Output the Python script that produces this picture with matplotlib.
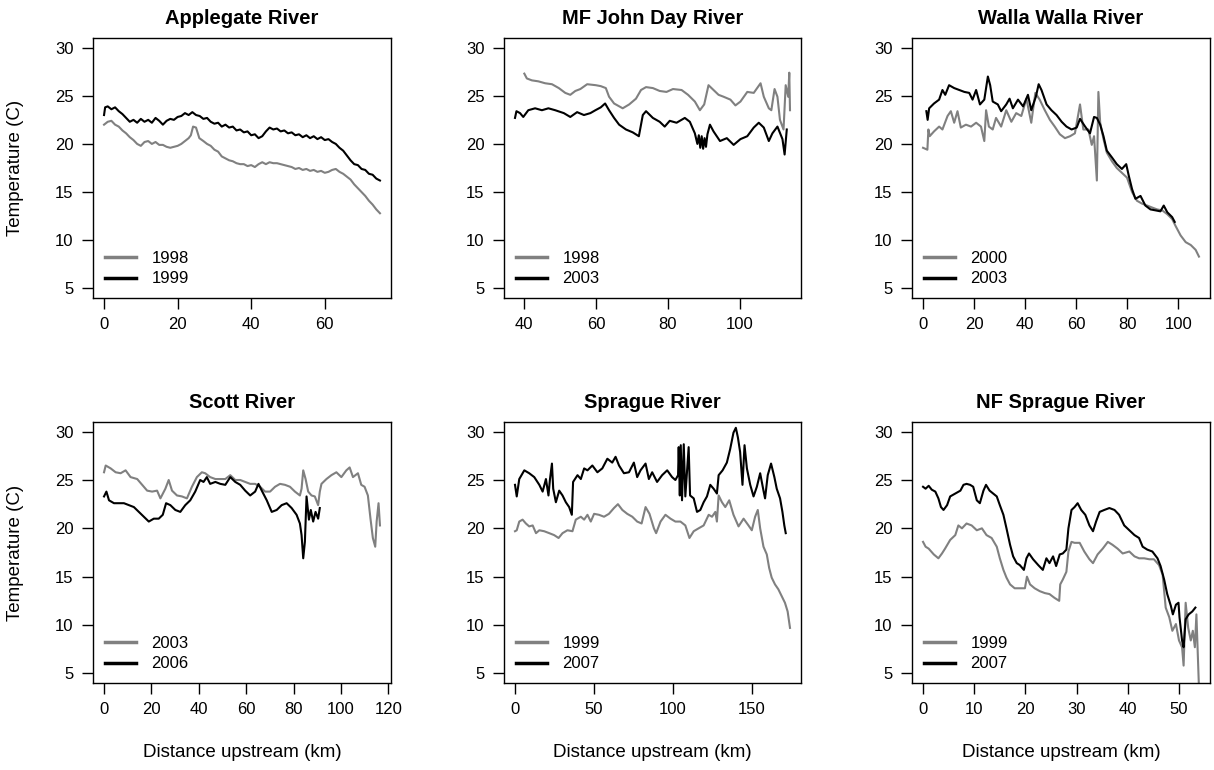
import matplotlib
matplotlib.use("Agg")
import matplotlib.pyplot as plt
from matplotlib.lines import Line2D
from matplotlib.ticker import MultipleLocator

plt.rcParams['font.family'] = ['Liberation Sans', 'DejaVu Sans']

# Applegate River
app_98_km = [0, 1, 2, 3, 4, 5, 6, 7, 8, 9, 10, 11, 12, 13, 14, 15, 16, 17, 18, 19, 20, 21, 22, 23, 23.6, 24.2,
             25, 25.9, 27, 28, 29, 30, 31, 32, 33, 34, 35, 36, 37, 38, 39, 40, 41, 42, 43, 44, 45, 46, 47, 48,
             49, 50, 51, 52, 53, 54, 55, 56, 57, 58, 59, 60, 61, 62, 63, 64, 65, 66, 67, 68, 69, 70, 71, 72, 73,
             74, 75]
app_98_t = [22.0, 22.3, 22.4, 22.0, 21.8, 21.4, 21.1, 20.7, 20.4, 20.0, 19.8, 20.2, 20.3, 20.0, 20.2, 19.9, 19.9,
            19.7, 19.6, 19.7, 19.8, 20.0, 20.3, 20.6, 20.9, 21.8, 21.7, 20.6, 20.3, 20.0, 19.8, 19.4, 19.2, 18.7,
            18.5, 18.3, 18.2, 18.0, 17.9, 17.9, 17.7, 17.8, 17.6, 17.9, 18.1, 17.9, 18.1, 18.0, 18.0, 17.9, 17.8,
            17.7, 17.6, 17.4, 17.5, 17.3, 17.4, 17.2, 17.3, 17.1, 17.2, 17.0, 17.1, 17.3, 17.4, 17.1, 16.9, 16.6,
            16.3, 15.8, 15.4, 15.0, 14.6, 14.1, 13.7, 13.2, 12.8]
app_99_km = [0, 0.3, 1, 2, 3, 4, 5, 6, 7, 8, 9, 10, 11, 12, 13, 14, 15, 16, 17, 18, 19, 20, 21, 22, 23, 24, 25,
             26, 27, 28, 29, 30, 31, 32, 33, 34, 35, 36, 37, 38, 39, 40, 41, 42, 43, 44, 45, 46, 47, 48, 49, 50,
             51, 52, 53, 54, 55, 56, 57, 58, 59, 60, 61, 62, 63, 64, 65, 66, 67, 68, 69, 70, 71, 72, 73, 74, 75]
app_99_t = [23.0, 23.8, 23.9, 23.6, 23.8, 23.4, 23.1, 22.7, 22.3, 22.5, 22.2, 22.6, 22.3, 22.5, 22.2, 22.7, 22.4,
            22.0, 22.4, 22.6, 22.5, 22.8, 22.9, 23.2, 23.0, 23.3, 23.0, 22.9, 22.6, 22.7, 22.3, 22.1, 22.2, 21.8,
            22.0, 21.7, 21.8, 21.4, 21.5, 21.2, 21.3, 20.9, 21.0, 20.6, 20.8, 21.3, 21.7, 21.5, 21.6, 21.3, 21.4,
            21.1, 21.2, 20.9, 21.0, 20.7, 20.9, 20.6, 20.8, 20.5, 20.7, 20.4, 20.5, 20.2, 20.0, 19.6, 19.3, 18.8,
            18.3, 17.9, 17.8, 17.4, 17.3, 16.9, 16.8, 16.4, 16.2]

# MF John Day River
jd_98_km = [40, 40.7, 42.1, 43.9, 45.8, 47.7, 49.6, 51.4, 52.8, 54.2, 55.6, 57.5, 59.9, 61.3, 62.7, 63.6, 65,
            67.4, 69.2, 71.1, 72.5, 73.9, 75.8, 77.7, 79.6, 81.4, 83.8, 85.6, 87.5, 88.9, 90.1, 91.3, 92.7, 94.1,
            95.5, 97.4, 98.8, 100.2, 102.1, 103.9, 105.8, 106.7, 108.1, 108.8, 109.7, 110.5, 111.2, 112.2, 112.8,
            113.5, 113.8, 114]
jd_98_t = [27.3, 26.8, 26.6, 26.5, 26.3, 26.2, 25.8, 25.3, 25.1, 25.5, 25.7, 26.2, 26.1, 26.0, 25.8, 24.9, 24.2,
           23.7, 24.1, 24.7, 25.6, 25.9, 25.8, 25.5, 25.4, 25.7, 25.6, 25.1, 24.4, 23.5, 24.1, 26.1, 25.6, 25.1,
           24.9, 24.6, 24.0, 24.4, 25.4, 25.3, 26.3, 24.9, 23.7, 23.5, 25.7, 24.9, 22.5, 21.5, 26.1, 24.9, 27.4,
           23.5]
jd_03_km = [37.4, 37.8, 38.8, 39.7, 41.1, 43, 44.9, 46.7, 48.6, 51, 52.8, 54.7, 56.6, 58.4, 59.8, 61.3, 62.5,
            63.6, 65, 66.4, 68.3, 70.2, 71.9, 73, 73.9, 75.8, 77.7, 79.1, 80.5, 82.4, 84.7, 86.1, 87.5, 88.2, 88.6,
            89.0, 89.4, 89.8, 90.2, 90.6, 91.0, 91.7, 92.7, 94.5, 96.4, 98.3, 100.2, 102.1, 103.9, 105.3, 106.7,
            108.1, 109.1, 110.5, 111.9, 112.5, 113.1]
jd_03_t = [22.7, 23.4, 23.2, 22.8, 23.5, 23.7, 23.5, 23.7, 23.5, 23.2, 22.8, 23.3, 23.0, 23.2, 23.5, 23.8, 24.2,
           23.5, 22.7, 22.0, 21.5, 21.2, 20.8, 23.0, 23.4, 22.7, 22.3, 21.8, 22.4, 22.2, 22.7, 22.3, 21.1, 20.0,
           20.9, 19.6, 20.8, 19.5, 20.6, 19.7, 21.0, 22.0, 21.3, 20.3, 20.6, 19.9, 20.5, 20.8, 21.7, 22.2, 21.7,
           20.3, 21.1, 21.8, 20.5, 18.9, 21.5]

# Walla Walla River
ww_00_km = [0, 1.7, 2.1, 2.6, 4.3, 6.3, 7.6, 9.6, 10.9, 12.2, 13.5, 14.8, 16.8, 18.8, 20.8, 22.7, 24, 24.7, 25.8,
            27.3, 28.6, 30.6, 32.6, 34.6, 36.5, 38.5, 40.5, 42.4, 44, 45.7, 47.7, 49.7, 51.6, 53.6, 55.6, 57.6,
            59.5, 61.5, 62.8, 64.8, 66.1, 67, 68.1, 68.7, 69.4, 70.7, 72, 74, 75.9, 77.9, 79.9, 81.9, 83.8, 85.8,
            87.8, 89.7, 91.7, 93.7, 95.7, 97.6, 98.9, 100.9, 102.9, 104.9, 106.8, 108.1]
ww_00_t = [19.6, 19.4, 21.5, 20.8, 21.3, 21.8, 21.5, 22.9, 23.4, 22.2, 23.4, 21.7, 22.0, 21.8, 22.2, 21.8, 20.3,
           23.5, 21.8, 21.5, 22.7, 21.8, 23.5, 22.3, 23.2, 22.9, 24.7, 22.2, 25.3, 24.6, 23.5, 22.5, 21.8, 21.0,
           20.6, 20.8, 21.1, 24.1, 21.5, 21.5, 19.9, 20.8, 16.2, 25.4, 22.2, 20.5, 19.1, 18.2, 17.5, 17.0, 16.5,
           15.0, 14.1, 13.8, 13.6, 13.4, 13.2, 13.1, 12.7, 12.2, 11.5, 10.5, 9.8, 9.5, 9.0, 8.3]
ww_03_km = [1.3, 1.8, 2.4, 4.3, 6.3, 7.6, 8.7, 10.2, 12.2, 14.2, 16.2, 18.1, 19.4, 20.8, 22.3, 24, 25.4, 26.3,
            27.3, 29.3, 30.6, 32.6, 33.9, 35.2, 37.2, 39.2, 41.1, 42.4, 44.2, 45.3, 46.4, 48.4, 50.3, 52.3, 54.3,
            56.2, 58.2, 60.2, 61.5, 63.5, 65.4, 67, 68.1, 69.4, 70.7, 72, 74, 75.9, 77.9, 79.6, 80.6, 81.9, 83.2,
            85.2, 87.1, 89.1, 91.1, 93, 94.3, 95.7, 97.6, 98.6]
ww_03_t = [23.4, 22.5, 23.7, 24.2, 24.6, 25.6, 25.1, 26.1, 25.8, 25.6, 25.4, 25.3, 24.6, 25.6, 24.1, 24.6, 27.0,
           26.1, 24.4, 24.1, 23.4, 24.1, 24.7, 23.7, 24.6, 23.9, 25.1, 23.5, 24.9, 26.2, 25.6, 24.1, 23.5, 23.0,
           22.3, 21.8, 21.5, 21.7, 22.6, 21.8, 21.1, 22.8, 22.7, 22.0, 20.8, 19.3, 18.6, 17.9, 17.4, 17.9, 16.7,
           15.3, 14.3, 14.6, 13.6, 13.2, 13.1, 13.0, 13.6, 12.9, 12.4, 11.9]

# Scott River
sc_03_km = [0, 0.7, 2.8, 4.9, 7, 9.1, 11.2, 14, 16.1, 18.2, 20.3, 22.4, 23.8, 25.9, 27.3, 28.7, 30.8, 32.9, 35,
            37.1, 39.2, 41.3, 42.7, 44.8, 47, 49.1, 51.2, 53.3, 55.4, 57.5, 59.6, 61.7, 63.8, 65.9, 68, 70.1,
            72.2, 74.3, 76.4, 78.5, 80.6, 82.7, 83.4, 84.1, 85.1, 86.2, 87.6, 89, 90.4, 91.1, 91.8, 93.9, 96,
            98.1, 100.2, 102.3, 103.7, 105.1, 107.2, 108.6, 110, 111.4, 112.5, 113.5, 114.5, 115.1, 115.9, 116.5]
sc_03_t = [25.8, 26.5, 26.2, 25.8, 25.7, 26.0, 25.3, 25.1, 24.5, 23.9, 23.8, 23.9, 23.1, 24.1, 25.0, 23.9, 23.4,
           23.3, 23.1, 24.3, 25.3, 25.8, 25.7, 25.3, 25.1, 25.1, 25.1, 25.5, 25.0, 25.0, 24.8, 24.6, 24.6, 24.3,
           23.8, 23.8, 24.3, 24.6, 24.5, 24.3, 23.8, 23.4, 24.1, 26.0, 25.1, 23.8, 23.4, 23.3, 22.4, 23.8, 24.6,
           25.1, 25.5, 25.8, 25.3, 26.0, 26.3, 25.3, 25.7, 24.5, 24.3, 23.4, 21.0, 19.0, 18.1, 20.7, 22.6, 20.3]
sc_06_km = [0, 1, 2.1, 4.2, 6.3, 8.4, 10.5, 12.6, 14.7, 16.8, 18.9, 21, 23.1, 24.8, 26.2, 28, 30.1, 32.2, 34.3,
            36.4, 38.5, 40.6, 42, 43.4, 44.8, 47, 49.1, 51.2, 53.3, 55.4, 57.5, 59.6, 61.7, 63.8, 65.2, 66.6,
            68.7, 70.8, 72.9, 75, 77.1, 79.2, 81.3, 82.7, 83.4, 84.1, 84.8, 85.5, 86.5, 87.3, 88.3, 89.3, 90.4,
            91.1]
sc_06_t = [23.3, 23.8, 22.9, 22.6, 22.6, 22.6, 22.4, 22.2, 21.7, 21.2, 20.7, 21.0, 21.0, 21.4, 22.6, 22.4, 21.9,
           21.7, 22.4, 22.9, 23.8, 25.0, 24.8, 25.3, 24.6, 24.8, 24.6, 24.5, 25.3, 24.8, 24.5, 23.9, 23.4, 23.8,
           24.6, 23.9, 22.9, 21.7, 21.9, 22.4, 22.6, 22.1, 21.4, 20.5, 19.3, 16.9, 18.6, 23.3, 20.9, 21.9, 20.7,
           21.7, 21.0, 22.1]

# Sprague River
sp_99_km = [0, 1.1, 2.7, 4.8, 6.9, 9, 11.2, 13.3, 15.4, 18.5, 21.7, 24.8, 27.6, 30.1, 33.2, 36.4, 38.5, 41.7,
            43.8, 45.9, 48, 50.1, 53.2, 56.4, 59.5, 62.7, 65.2, 68, 71.1, 74.3, 77.4, 80.2, 82.7, 85.2, 88, 89.4,
            92.2, 95.3, 98.5, 101.6, 104.8, 107.9, 110.5, 113.2, 116.3, 119.5, 122.7, 124.8, 126.9, 127.9, 129,
            131.1, 133.2, 135.7, 138.4, 141.6, 144.8, 147.9, 150, 152.1, 153.8, 155.3, 157.4, 159.5, 161, 162.6,
            164.7, 166.8, 168.9, 171, 172.7, 174.2]
sp_99_t = [19.7, 19.8, 20.7, 20.9, 20.5, 20.2, 20.3, 19.5, 19.8, 19.7, 19.5, 19.3, 19.0, 19.5, 19.8, 19.7, 20.9,
           21.2, 20.9, 21.4, 20.7, 21.5, 21.4, 21.2, 21.5, 22.1, 22.5, 21.9, 21.5, 21.2, 20.7, 20.5, 22.2, 21.5,
           20.0, 19.5, 20.7, 21.4, 21.0, 20.7, 20.7, 20.3, 19.0, 19.7, 20.0, 20.3, 21.4, 21.2, 21.7, 20.7, 23.4,
           22.7, 22.2, 22.9, 21.4, 20.2, 21.0, 20.3, 19.8, 21.2, 21.9, 20.0, 18.1, 17.3, 15.9, 14.9, 14.2, 13.7,
           13.0, 12.3, 11.4, 9.7]
sp_07_km = [0, 1.1, 2.7, 5.9, 9, 12.2, 15.4, 17.5, 19.6, 21.2, 22.1, 23.4, 24.2, 25.9, 28, 30.1, 32.2, 34.3, 36,
            36.8, 39.6, 41.7, 43.8, 45.9, 49, 52.2, 55.3, 58.5, 61.6, 63.7, 65.9, 69, 72.2, 75.3, 77.4, 79.5, 82.7,
            84.8, 86.9, 90, 93.2, 96.4, 99.5, 101.6, 103.3, 103.7, 104.4, 105, 105.8, 106.9, 107.9, 110, 110.9,
            113.2, 115.3, 117.4, 119.5, 121.6, 123.7, 125.8, 127.9, 129, 131.5, 134.2, 136.3, 138.4, 139.9, 141.2,
            142.6, 144.1, 145.4, 146.9, 149, 151.1, 153.2, 155.3, 157.4, 158.4, 160.1, 162.2, 164.3, 165.8, 167.9,
            169.4, 170.6, 171.5]
sp_07_t = [24.5, 23.3, 25.1, 26.0, 25.7, 25.3, 24.5, 23.8, 25.1, 23.4, 25.0, 26.7, 24.1, 22.7, 23.9, 23.4, 22.7,
           22.2, 21.4, 24.8, 25.5, 25.1, 26.2, 26.0, 26.5, 25.8, 26.2, 27.2, 26.8, 27.4, 26.5, 25.7, 25.8, 26.8,
           25.3, 26.0, 26.7, 25.1, 25.8, 24.8, 25.5, 26.0, 25.3, 25.0, 25.5, 28.4, 23.4, 28.6, 22.9, 28.7, 23.3,
           28.4, 23.4, 23.1, 21.7, 21.9, 22.7, 23.3, 24.5, 24.1, 23.6, 25.5, 26.0, 26.8, 28.2, 29.9, 30.4, 29.4,
           27.9, 24.5, 28.6, 26.2, 24.5, 23.3, 24.3, 25.7, 23.9, 23.1, 25.5, 26.7, 25.3, 24.1, 23.1, 21.7, 20.3,
           19.5]

# NF Sprague River
nf_99_km = [0, 0.5, 1.1, 2.1, 3, 3.7, 4.3, 5.3, 6.3, 6.9, 7.6, 8.5, 9.5, 10.5, 11.5, 12.4, 13.4, 14.4, 15, 15.7,
            16.3, 17, 17.9, 18.9, 19.9, 20.3, 20.9, 21.8, 22.8, 23.8, 24.7, 25.7, 26.6, 26.8, 27.3, 28, 28.4, 29,
            29.6, 30.6, 31.5, 32.5, 33.2, 34.1, 35.1, 36.1, 37, 38, 39, 40.3, 41.3, 42.2, 43.2, 44.2, 45.1, 46.1,
            46.8, 47.4, 48.1, 48.7, 49.4, 50, 50.6, 50.9, 51.3, 51.8, 52.3, 52.7, 53.1, 53.4, 53.9]
nf_99_t = [18.6, 18.1, 17.9, 17.3, 16.9, 17.4, 17.9, 18.8, 19.3, 20.3, 20.0, 20.5, 20.3, 19.8, 20.0, 19.3, 19.0,
           18.1, 16.9, 15.7, 14.9, 14.2, 13.8, 13.8, 13.8, 15.0, 14.2, 13.8, 13.5, 13.3, 13.2, 12.8, 12.5, 14.2,
           14.7, 15.5, 17.6, 18.6, 18.5, 18.5, 17.6, 16.8, 16.4, 17.3, 17.9, 18.6, 18.3, 17.9, 17.4, 17.6, 17.1,
           16.9, 16.9, 16.8, 16.8, 16.2, 15.2, 11.8, 10.8, 9.4, 10.1, 8.4, 7.7, 5.8, 12.3, 9.7, 8.4, 9.4, 7.7,
           11.1, 3.5]
nf_07_km = [0, 0.5, 1.1, 1.7, 2.4, 3, 3.5, 4, 4.7, 5.3, 6.3, 7.3, 7.9, 8.5, 9.2, 9.8, 10.5, 11.1, 11.8, 12.3, 13,
            13.7, 14.4, 15, 15.7, 16.3, 17, 17.6, 18.3, 18.9, 19.7, 20.2, 20.7, 21.5, 22.5, 23.4, 24.1, 24.7,
            25.4, 26, 26.7, 27.3, 28, 28.4, 29, 29.6, 30.2, 30.9, 31.7, 32.5, 33.2, 33.8, 34.5, 35.4, 36.4, 37.4,
            38.3, 39.3, 40.3, 41.3, 42.2, 42.9, 43.8, 44.8, 45.8, 46.4, 47.1, 47.7, 48.4, 48.8, 49.4, 49.9, 50.1,
            50.6, 50.9, 51.3, 51.9, 52.6, 53.2]
nf_07_t = [24.3, 24.1, 24.4, 24.0, 23.8, 23.1, 22.2, 21.9, 22.4, 23.3, 23.6, 23.9, 24.5, 24.6, 24.5, 24.3, 22.9,
           22.6, 23.9, 24.5, 23.9, 23.6, 23.3, 22.4, 21.4, 20.0, 18.3, 17.1, 16.4, 16.2, 15.7, 16.9, 17.4, 16.8,
           16.2, 15.7, 16.9, 16.4, 17.1, 16.1, 17.3, 17.4, 17.8, 20.0, 21.9, 22.2, 22.6, 21.9, 21.4, 20.3, 19.7,
           20.7, 21.7, 21.9, 22.1, 21.9, 21.4, 20.3, 19.8, 19.3, 19.0, 18.1, 17.8, 17.6, 16.9, 16.1, 14.7, 13.2,
           12.0, 11.1, 12.1, 12.3, 10.8, 8.4, 7.7, 10.6, 11.1, 11.4, 11.8]

rivers = ['Applegate River', 'MF John Day River', 'Walla Walla River',
          'Scott River', 'Sprague River', 'NF Sprague River']
years = [('1998', '1999'), ('1998', '2003'), ('2000', '2003'),
         ('2003', '2006'), ('1999', '2007'), ('1999', '2007')]
gray_series = [(app_98_km, app_98_t), (jd_98_km, jd_98_t), (ww_00_km, ww_00_t),
               (sc_03_km, sc_03_t), (sp_99_km, sp_99_t), (nf_99_km, nf_99_t)]
black_series = [(app_99_km, app_99_t), (jd_03_km, jd_03_t), (ww_03_km, ww_03_t),
                (sc_06_km, sc_06_t), (sp_07_km, sp_07_t), (nf_07_km, nf_07_t)]
x_steps = [20, 20, 20, 20, 50, 10]

W, H = 1214, 770
fig = plt.figure(figsize=(W / 100, H / 100), dpi=100)

# panel boxes in pixels: left, top, right, bottom
col_px = [(93, 391), (504, 801), (912, 1210)]
row_px = [(38, 298), (422, 683)]
gray = '#808080'

for i, name in enumerate(rivers):
    r, c = divmod(i, 3)
    x0, x1 = col_px[c]
    y0, y1 = row_px[r]
    ax = fig.add_axes([x0 / W, 1 - y1 / H, (x1 - x0) / W, (y1 - y0) / H])

    gx, gy = gray_series[i]
    bx, by = black_series[i]
    ax.plot(gx, gy, color=gray, lw=1.5)
    ax.plot(bx, by, color='black', lw=1.5)

    # 4% padding on x, like R's default axis style
    lo = min(min(gx), min(bx))
    hi = max(max(gx), max(bx))
    pad = 0.04 * (hi - lo)
    ax.set_xlim(lo - pad, hi + pad)
    ax.set_ylim(4, 31)
    ax.xaxis.set_major_locator(MultipleLocator(x_steps[i]))
    ax.set_yticks([5, 10, 15, 20, 25, 30])
    ax.tick_params(direction='out', length=8, width=1, labelsize=12, pad=6)
    for s in ax.spines.values():
        s.set_linewidth(1)

    ax.set_title(name, fontweight='bold', fontsize=14.5, pad=10)
    if c == 0:
        ax.set_ylabel('Temperature (C)', fontsize=13.5, labelpad=22)
    if r == 1:
        ax.set_xlabel('Distance upstream (km)', fontsize=13.5, labelpad=19)

    handles = [Line2D([], [], color=gray, lw=2.5), Line2D([], [], color='black', lw=2.5)]
    ax.legend(handles, years[i], loc='lower left', frameon=False, fontsize=12,
              handlelength=1.9, handletextpad=0.9, labelspacing=0.32,
              borderaxespad=0.3, bbox_to_anchor=(0.0, 0.0))

fig.savefig('out.png', dpi=100)
